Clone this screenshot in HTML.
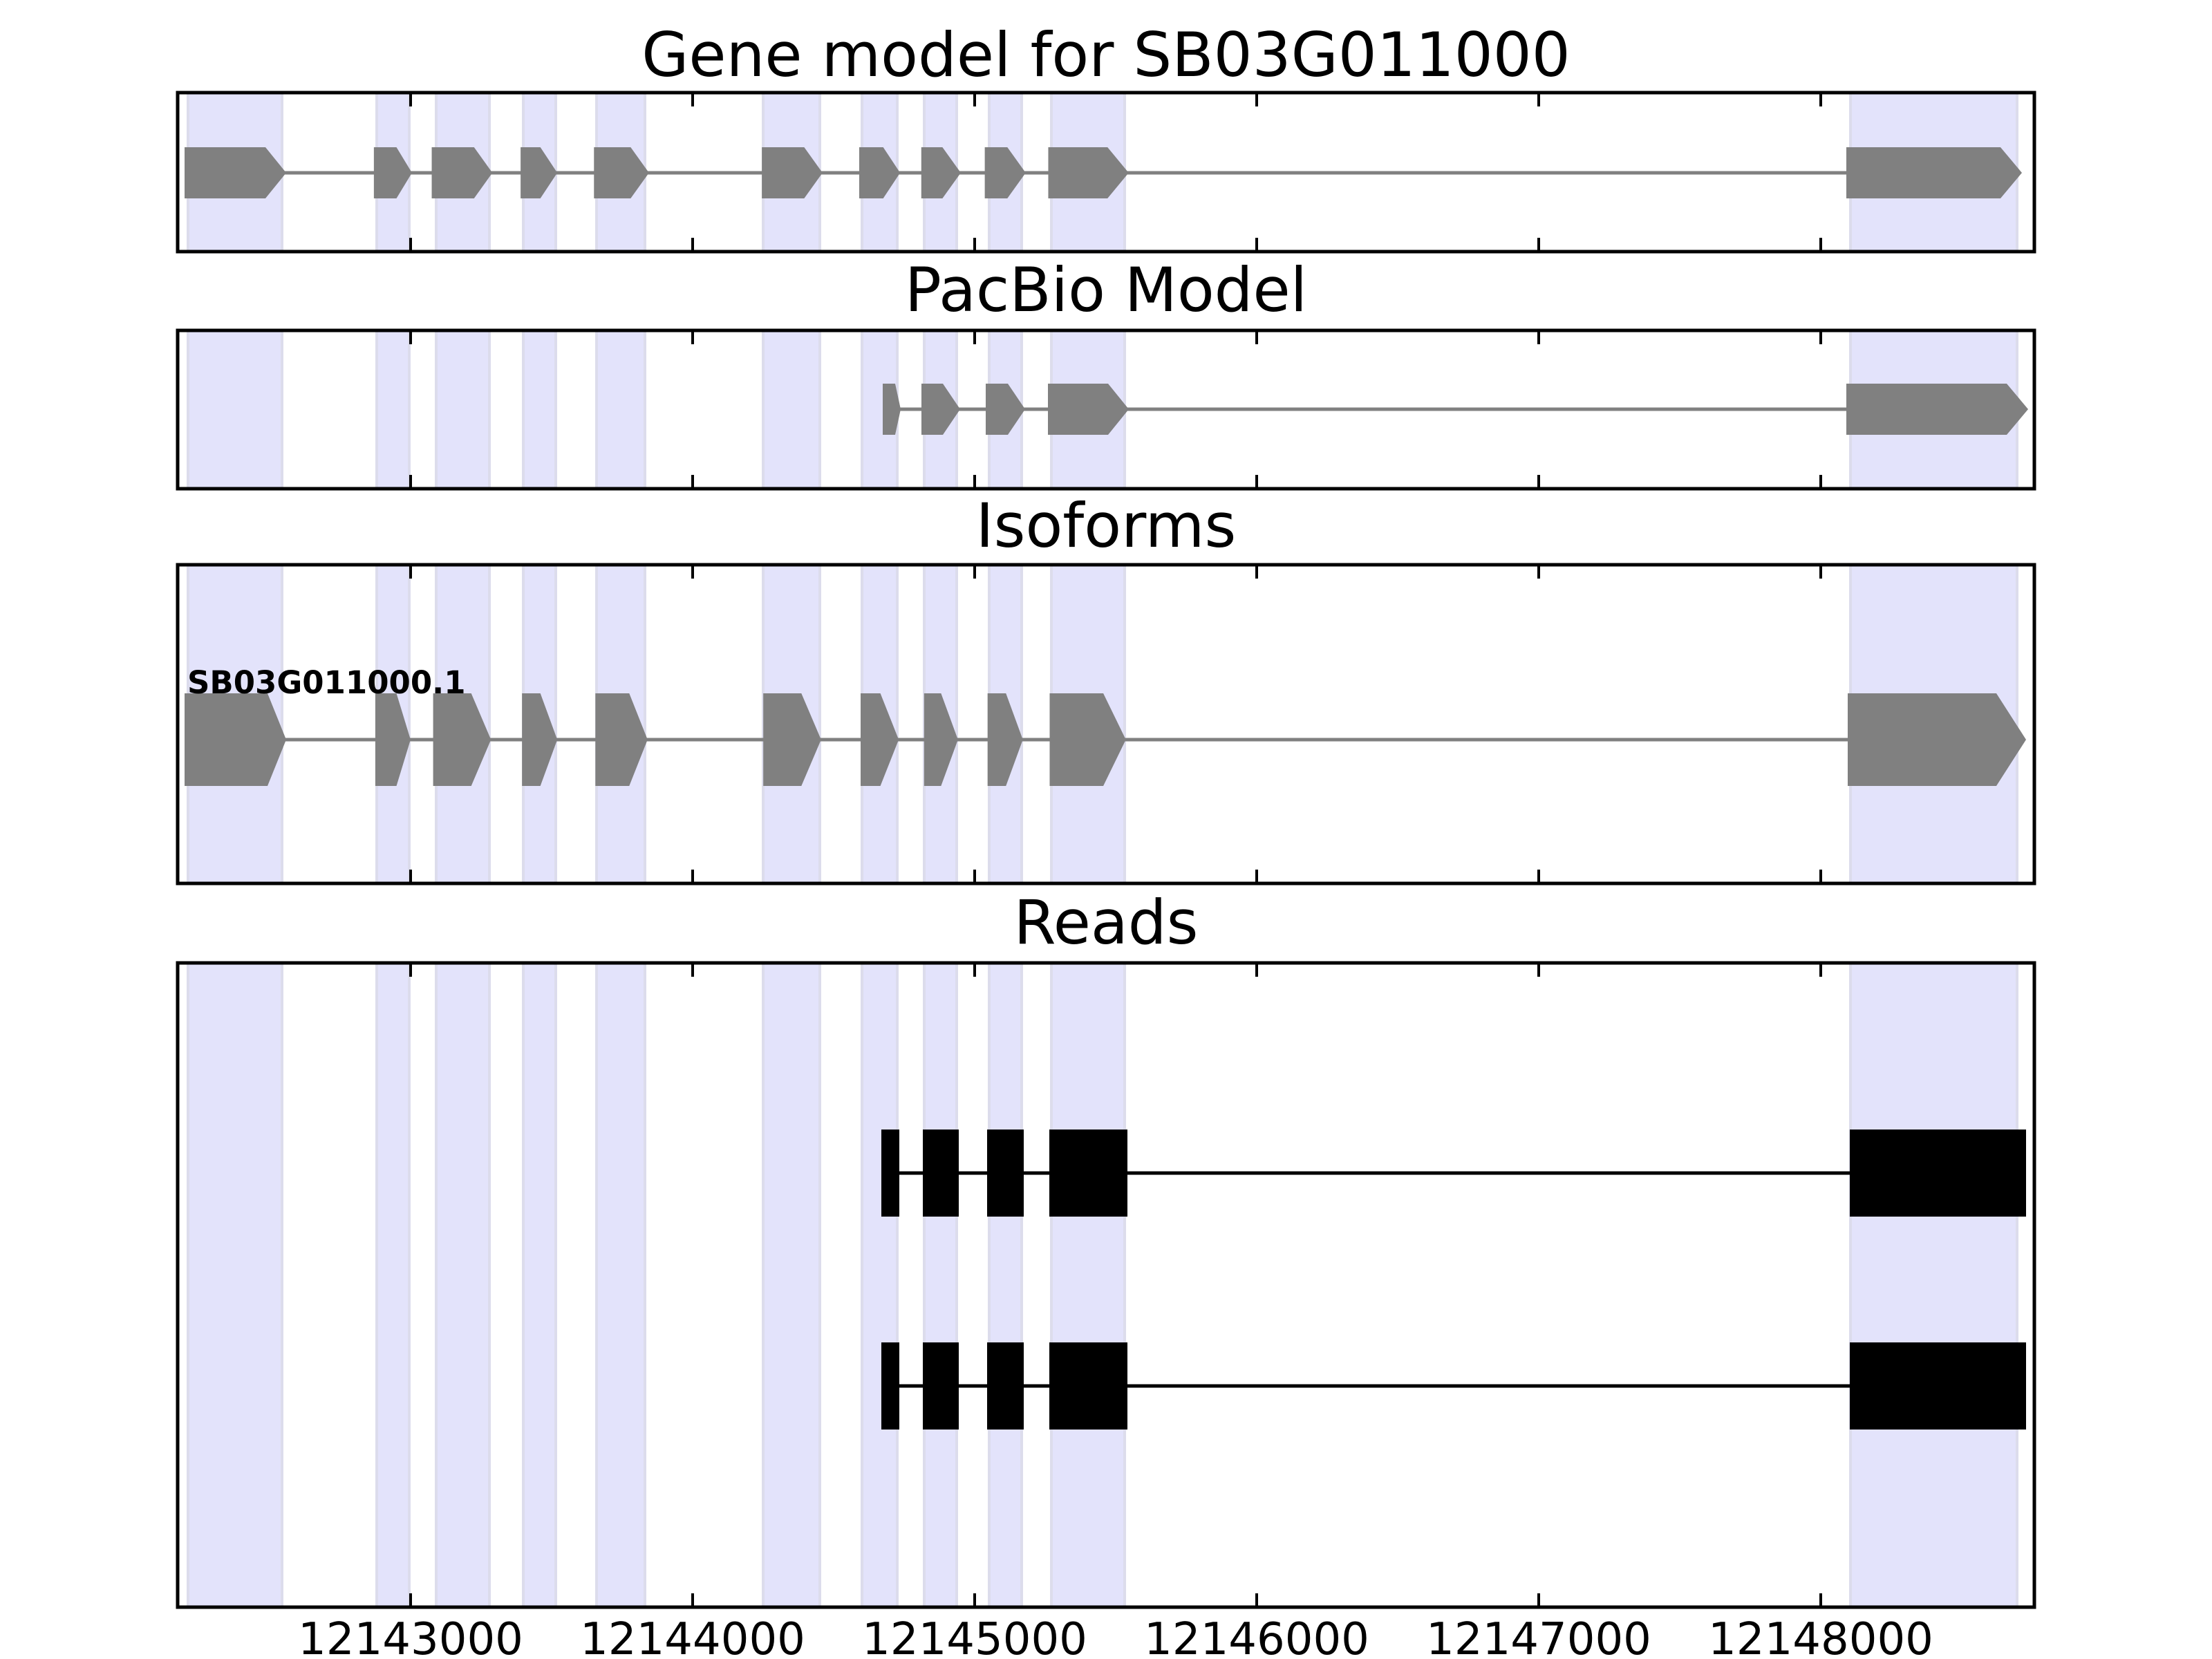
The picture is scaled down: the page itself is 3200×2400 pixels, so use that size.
<!DOCTYPE html>
<html><head><meta charset="utf-8"><style>html,body{margin:0;padding:0;background:#fff}svg{display:block}</style></head>
<body>
<svg xmlns="http://www.w3.org/2000/svg" width="3200" height="2400" viewBox="0 0 3200 2400">
<g font-family="DejaVu Sans, Liberation Sans, sans-serif" fill="#000">
<text x="1600" y="110" font-size="88" text-anchor="middle">Gene model for SB03G011000</text>
<text x="1600" y="450" font-size="88" text-anchor="middle">PacBio Model</text>
<text x="1600" y="791" font-size="88" text-anchor="middle">Isoforms</text>
<text x="1600" y="1365" font-size="88" text-anchor="middle">Reads</text>
<g font-size="64" text-anchor="middle">
<text x="594" y="2393">12143000</text>
<text x="1002" y="2393">12144000</text>
<text x="1410" y="2393">12145000</text>
<text x="1818" y="2393">12146000</text>
<text x="2226" y="2393">12147000</text>
<text x="2634" y="2393">12148000</text>
</g>
</g>
<script>
(function(){
var svgNS="http://www.w3.org/2000/svg",s=document.querySelector('svg');
function el(t,a){var e=document.createElementNS(svgNS,t);for(var k in a)e.setAttribute(k,a[k]);s.appendChild(e);return e;}
var bands=[[272,408],[545,592],[631,708],[757,804],[863,933],[1104,1186],[1247,1298],[1337,1384],[1431,1478],[1521,1627],[2677,2918]];
var axes=[[134,364],[478,707],[817,1278],[1393,2325]];
var ticks=[594,1002,1410,1818,2226,2634];
axes.forEach(function(a){
 bands.forEach(function(b){el('rect',{x:b[0],y:a[0],width:b[1]-b[0],height:a[1]-a[0],fill:'#e3e3fb',stroke:'#dcdcec','stroke-width':4});});
});
function gene(ex,yc,h,lw){
 el('line',{x1:ex[0][0],x2:ex[ex.length-1][0],y1:yc,y2:yc,stroke:'#808080','stroke-width':lw});
 ex.forEach(function(e){var x0=e[0],x1=e[1],t=e[2];
  el('polygon',{points:x0+','+(yc-h)+' '+x1+','+(yc-h)+' '+t+','+yc+' '+x1+','+(yc+h)+' '+x0+','+(yc+h),fill:'#808080'});});
}
var s2=2.041;
function cv(a){return a.map(function(e){return [e[0]*s2,e[1]*s2,e[2]*s2];});}
var gm=cv([[131,190,203],[265,281,292],[306,336,349],[369,383,395],[421,447,460],[540,570,583],[609,626,638],[653,668,681],[698,714,727],[743,785,800]]);
gm[0]=[267,384,414]; gm.push([2671,2894,2925]);
gene(gm,250,37,5);
gene([[1277,1295,1303],[1333,1364,1389],[1426,1458,1483],[1516,1603,1633],[2671,2903,2934]],592,37,5);
var iso=cv([[131,187,203],[266,281,291],[307,334,348],[370,383,395],[422,446,459],[541,568,582],[610,624,637],[655,667,679],[700,713,725],[744,782,798]]);
iso[0]=[267,387,414]; iso.push([2673,2888,2931]);
gene(iso,1070,67,5);
[1697,2005].forEach(function(yc){
 el('line',{x1:1285,x2:2676,y1:yc,y2:yc,stroke:'#000','stroke-width':5});
 [[1275,1301],[1335,1387],[1428,1481],[1518,1631],[2676,2931]].forEach(function(e){el('rect',{x:e[0],y:yc-63,width:e[1]-e[0],height:126,fill:'#000'});});
});
var t=el('text',{x:271,y:1003,'font-size':45,'font-weight':'bold','font-family':'DejaVu Sans, Liberation Sans, sans-serif'});t.textContent='SB03G011000.1';
axes.forEach(function(a){
 ticks.forEach(function(x){el('line',{x1:x,x2:x,y1:a[0],y2:a[0]+20,stroke:'#000','stroke-width':4});el('line',{x1:x,x2:x,y1:a[1],y2:a[1]-20,stroke:'#000','stroke-width':4});});
 el('rect',{x:257,y:a[0],width:2686,height:a[1]-a[0],fill:'none',stroke:'#000','stroke-width':5});
});
})();
</script>
</svg>
</body></html>
